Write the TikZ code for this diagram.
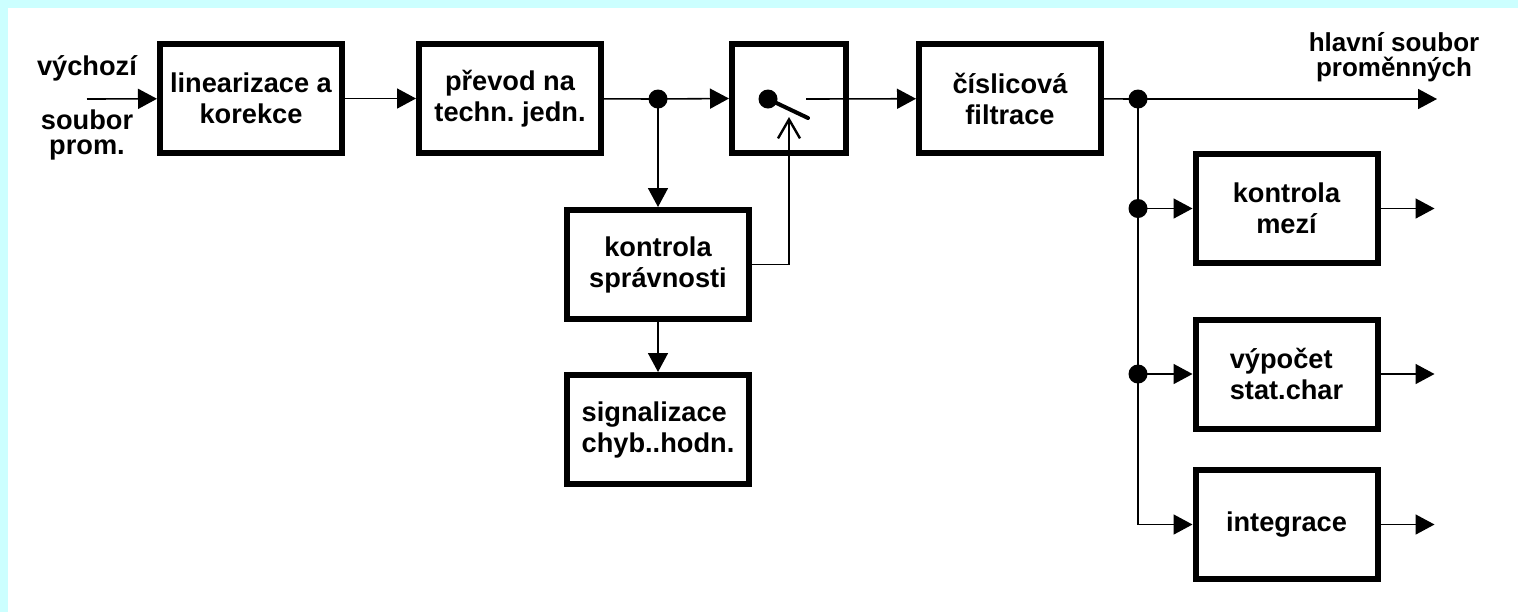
\documentclass[tikz,border=0pt]{standalone}
\usepackage{fontspec}
\setmainfont{Liberation Sans}
\usepackage{tikz}
\usetikzlibrary{
  arrows.meta,
  positioning,
  calc
}
\frenchspacing
\definecolor{framecyan}{RGB}{204,255,255}
\tikzset{>={Triangle[length=9.5pt,width=10pt]}}
\tikzset{
  block/.style={draw, line width=3pt, minimum width=91pt, minimum height=54.5pt,
    align=center, inner sep=0pt},
  wire/.style={line width=0.8pt},
  junction/.style={circle, fill, inner sep=0pt, minimum size=9.5pt},
  tight/.style={align=center, font=\fontsize{13.6}{12.5}\selectfont\bfseries}
}

\begin{document}
\begin{tikzpicture}[x=0.5pt, y=-0.5pt, font=\fontsize{13.6}{15.5}\selectfont\bfseries]
        \fill[framecyan] (0,0) rectangle (1518,612);
        \fill[white] (8,8) rectangle (1518,612);
        \useasboundingbox (0,0) rectangle (1518,612);
        % processing chain
        \node[block] (lin) at (251,98.5) {linearizace a\\korekce};
        \node[block] (prevod) at (510,98.5) {převod na\\techn. jedn.};
        \node[block, minimum width=57pt] (switch) at (789,98.5) {};
        \node[block] (filtr) at (1010,98.5) {číslicová\\filtrace};
        \node[block] (kontrola) at (658,264.5) {kontrola\\správnosti};
        \node[block, align=left] (signal) at (658,429.5) {signalizace\\chyb..hodn.};
        \node[block] (meze) at (1286.5,208.5) {kontrola\\mezí};
        \node[block, align=left] (stat) at (1286.5,374) {výpočet\\stat.char};
        \node[block] (integ) at (1286.5,524.5) {integrace};
        % labels
        \node (vstup) at (87,68) {výchozí};
        \node[tight] (vstup2) at (87,135) {soubor\\prom.};
        \node[tight, font=\fontsize{13}{12.5}\selectfont\bfseries] (vystup) at (1394,57)
          {hlavní soubor\\proměnných};
        % junctions and free ends
        \node[junction] (j1) at (658,99) {};
        \node[junction] (pivot) at (768,99) {};
        \node[junction] (j2) at (1138,99) {};
        \node[junction] (j3) at (1138,208.5) {};
        \node[junction] (j4) at (1138,374) {};
        \coordinate (in) at (87,99);
        \coordinate (lever) at (808,118);
        \coordinate (control) at (789,117);
        \coordinate (swout) at (806,99);
        \coordinate (out) at (1437,99);
        \coordinate (j5) at (1138,524.5);
        \draw[wire,->] (in) -- (lin);
        \draw[wire,->] (lin) -- (prevod);
        \draw[wire] (prevod) -- (j1.center);
        \draw[wire,->] (j1.center) -- (switch.west);
        \draw[wire,->] (j1.center) -- (kontrola.north);
        \draw[wire,->] (kontrola) -- (signal);
        % switch
        \draw[line width=2pt, line cap=round] (pivot.center) -- (lever);
        \draw[wire,-{Straight Barb[length=9.5pt,width=11pt,line width=1.2pt]}]
          (kontrola.east) -| (control);
        \draw[wire,->] (swout) -- (filtr);
        \draw[wire] (filtr) -- (j2.center);
        \draw[wire,->] (j2.center) -- (out);
        \draw[wire] (j2.center) -- (j5);
        \draw[wire,->] (j3.center) -- (meze);
        \draw[wire,->] (j4.center) -- (stat);
        \draw[wire,->] (j5) -- (integ);
        \foreach \b in {meze,stat,integ}{
          \coordinate (\b-out) at ($(\b.east)+(54,0)$);
          \draw[wire,->] (\b.east) -- (\b-out);
        }
\end{tikzpicture}
\end{document}
